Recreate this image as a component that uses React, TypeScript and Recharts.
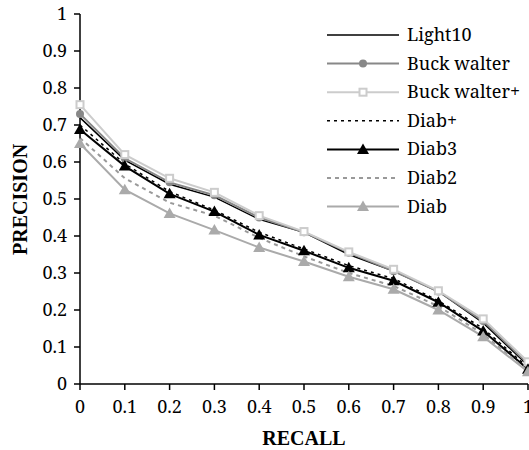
import React from 'react';
import { LineChart, Line, XAxis, YAxis } from 'recharts';

const recall = [0, 0.1, 0.2, 0.3, 0.4, 0.5, 0.6, 0.7, 0.8, 0.9, 1];
const light10 = [0.72, 0.605, 0.54, 0.505, 0.445, 0.41, 0.35, 0.305, 0.25, 0.165, 0.05];
const buckwalter = [0.73, 0.61, 0.545, 0.51, 0.45, 0.41, 0.355, 0.305, 0.25, 0.17, 0.055];
const buckwalterPlus = [0.755, 0.62, 0.556, 0.518, 0.455, 0.412, 0.357, 0.31, 0.252, 0.176, 0.06];
const diabPlus = [0.7, 0.595, 0.52, 0.47, 0.41, 0.365, 0.32, 0.285, 0.225, 0.15, 0.045];
const diab3 = [0.688, 0.589, 0.514, 0.466, 0.403, 0.36, 0.314, 0.279, 0.221, 0.143, 0.04];
const diab2 = [0.665, 0.556, 0.49, 0.455, 0.395, 0.345, 0.3, 0.265, 0.21, 0.135, 0.035];
const diab = [0.65, 0.525, 0.461, 0.416, 0.369, 0.331, 0.29, 0.256, 0.2, 0.128, 0.033];
const ticks = [0, 0.1, 0.2, 0.3, 0.4, 0.5, 0.6, 0.7, 0.8, 0.9, 1];

const data = recall.map((r, i) => ({
  r,
  light10: light10[i],
  buckwalter: buckwalter[i],
  buckwalterPlus: buckwalterPlus[i],
  diabPlus: diabPlus[i],
  diab3: diab3[i],
  diab2: diab2[i],
  diab: diab[i],
}));

const FONT = 'Noto Serif, Times New Roman, serif';
const BOLD_FONT = 'Times New Roman, serif';

type Marker = 'none' | 'circle' | 'square' | 'triangle';
const series: { key: string; name: string; color: string; width: number; dash?: string; marker: Marker }[] = [
  { key: 'light10', name: 'Light10', color: '#000', width: 1.5, marker: 'none' },
  { key: 'buckwalter', name: 'Buck walter', color: '#888', width: 2, marker: 'circle' },
  { key: 'buckwalterPlus', name: 'Buck walter+', color: '#ccc', width: 2, marker: 'square' },
  { key: 'diabPlus', name: 'Diab+', color: '#000', width: 1.5, dash: '3 4', marker: 'none' },
  { key: 'diab3', name: 'Diab3', color: '#000', width: 2, marker: 'triangle' },
  { key: 'diab2', name: 'Diab2', color: '#999', width: 2, dash: '4 4', marker: 'none' },
  { key: 'diab', name: 'Diab', color: '#aaa', width: 2, marker: 'triangle' },
];

function markerShape(m: Marker, color: string, cx: number, cy: number, k?: string) {
  if (m === 'circle') return <circle key={k} cx={cx} cy={cy} r={4} fill={color} stroke="none" />;
  if (m === 'square')
    return <rect key={k} x={cx - 3.5} y={cy - 3.5} width={7} height={7} fill="#fff" stroke={color} strokeWidth={2} />;
  if (m === 'triangle')
    return <polygon key={k} points={`${cx},${cy - 6} ${cx - 6},${cy + 4.5} ${cx + 6},${cy + 4.5}`} fill={color} stroke="none" />;
  return <g key={k} />;
}

const LegendBox = () => (
  <svg width={210} height={210} style={{ position: 'absolute', left: 327, top: 21 }}>
    {series.map((s, i) => {
      const cy = 14 + i * 28.6;
      return (
        <g key={s.key}>
          <line x1={0} y1={cy} x2={72} y2={cy} stroke={s.color} strokeWidth={s.width} strokeDasharray={s.dash} />
          {markerShape(s.marker, s.color, 36, cy)}
          <text x={80} y={cy + 6} fontFamily={FONT} fontSize={18} fill="#000">
            {s.name}
          </text>
        </g>
      );
    })}
  </svg>
);

const fmt = (v: number) => (v === 0 ? '0' : v === 1 ? '1' : String(Math.round(v * 10) / 10));
const tickStyle = { fill: '#000', fontSize: 18, fontFamily: FONT };

export default function App() {
  return (
    <div style={{ position: 'absolute', left: 0, top: 0, width: 529, height: 450, overflow: 'hidden', background: '#fff' }}>
      <LineChart width={540} height={450} data={data} margin={{ top: 14, right: 12, left: 20, bottom: 5 }}>
        <XAxis
          dataKey="r"
          type="number"
          domain={[0, 1]}
          ticks={ticks}
          tickFormatter={fmt}
          stroke="#000"
          strokeWidth={1.5}
          tickSize={6}
          tickMargin={10}
          height={61}
          tick={tickStyle}
          label={{ value: 'RECALL', position: 'insideBottom', offset: 0, fill: '#000', fontSize: 20, fontWeight: 'bold', fontFamily: BOLD_FONT }}
        />
        <YAxis
          type="number"
          domain={[0, 1]}
          ticks={ticks}
          tickFormatter={fmt}
          stroke="#000"
          strokeWidth={1.5}
          tickSize={6}
          tickMargin={7}
          width={60}
          tick={tickStyle}
          label={{ value: 'PRECISION', angle: -90, position: 'insideLeft', offset: 0, dy: 56, fill: '#000', fontSize: 20, fontWeight: 'bold', fontFamily: BOLD_FONT }}
        />
        {series.map((s) => (
          <Line
            key={s.key}
            dataKey={s.key}
            name={s.name}
            stroke={s.color}
            strokeWidth={s.width}
            strokeDasharray={s.dash}
            isAnimationActive={false}
            dot={(p: any) => markerShape(s.marker, s.color, p.cx, p.cy, `${s.key}-${p.index}`)}
            activeDot={false}
            type="linear"
          />
        ))}
      </LineChart>
      <LegendBox />
    </div>
  );
}
